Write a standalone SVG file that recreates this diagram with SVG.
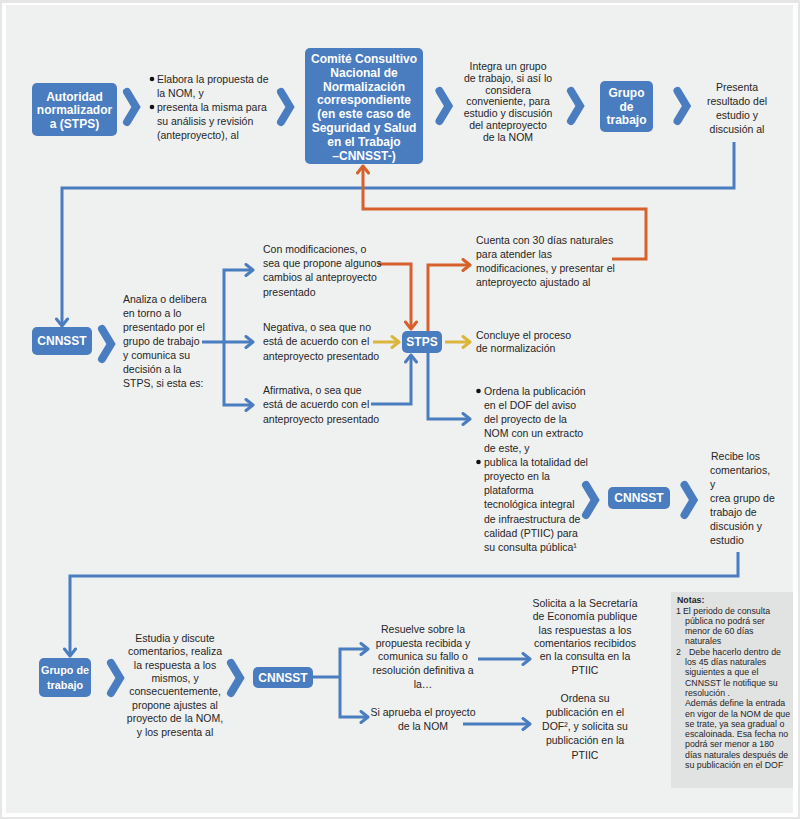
<svg xmlns="http://www.w3.org/2000/svg" xmlns:xlink="http://www.w3.org/1999/xlink" width="800" height="819" viewBox="0 0 800 819">
<style>
text{font-family:"Liberation Sans",Arial,sans-serif;fill:#262626}
.t{font-size:10.5px}
.c{text-anchor:middle}
.bt{font-size:12px;font-weight:bold;fill:#fff;text-anchor:middle}
.bt.s{font-size:10.8px}
.box{fill:#4a7cc0}
.chev{fill:none;stroke:#4a7cc0;stroke-width:8;stroke-linecap:round;stroke-linejoin:miter}
.lb{fill:none;stroke:#4a7cc0;stroke-width:3}
.lo{fill:none;stroke:#d6612d;stroke-width:3}
.ly{fill:none;stroke:#dcb53c;stroke-width:3}
.n{font-size:8.8px}
</style>
<defs>
<path id="chev" d="M-4.5,-15 L4.5,0 L-4.5,15"/>
<marker id="ab" viewBox="0 0 12 14" markerWidth="12" markerHeight="14" refX="10" refY="7" orient="auto" markerUnits="userSpaceOnUse"><path d="M3,1.5 L10,7 L3,12.5" fill="none" stroke="#4a7cc0" stroke-width="3" stroke-linecap="round" stroke-linejoin="round"/></marker>
<marker id="ao" viewBox="0 0 12 14" markerWidth="12" markerHeight="14" refX="10" refY="7" orient="auto" markerUnits="userSpaceOnUse"><path d="M3,1.5 L10,7 L3,12.5" fill="none" stroke="#d6612d" stroke-width="3" stroke-linecap="round" stroke-linejoin="round"/></marker>
<marker id="ay" viewBox="0 0 12 14" markerWidth="12" markerHeight="14" refX="10" refY="7" orient="auto" markerUnits="userSpaceOnUse"><path d="M3,1.5 L10,7 L3,12.5" fill="none" stroke="#dcb53c" stroke-width="3" stroke-linecap="round" stroke-linejoin="round"/></marker>
</defs>
<rect x="0" y="0" width="800" height="819" fill="#e6e6e6"/>
<rect x="2" y="3" width="796" height="814" fill="#ffffff"/>
<rect x="6" y="5" width="787" height="808" fill="#eff0f0"/>

<g id="connectors">
<path class="lb" d="M734,142 V188 H62 V326" marker-end="url(#ab)"/>
<path class="lb" d="M202,342 H253" marker-end="url(#ab)"/>
<path class="lb" d="M224,342 V270 H253" marker-end="url(#ab)"/>
<path class="lb" d="M224,342 V405 H253" marker-end="url(#ab)"/>
<path class="lo" d="M378,264 H411 V329" marker-end="url(#ao)"/>
<path class="lo" d="M428,331 V265 H470" marker-end="url(#ao)"/>
<path class="lo" d="M612,259 H646 V209 H363 V166" marker-end="url(#ao)"/>
<path class="ly" d="M373,342 H399" marker-end="url(#ay)"/>
<path class="ly" d="M445,342 H470" marker-end="url(#ay)"/>
<path class="lb" d="M371,404 H411 V355" marker-end="url(#ab)"/>
<path class="lb" d="M428,353 V419 H470" marker-end="url(#ab)"/>
<path class="lb" d="M738,552 V576 H70 V656" marker-end="url(#ab)"/>
<path class="lb" d="M313,677 H340"/>
<path class="lb" d="M340,677 V649 H368" marker-end="url(#ab)"/>
<path class="lb" d="M340,677 V717 H368" marker-end="url(#ab)"/>
<path class="lb" d="M478,659 H530" marker-end="url(#ab)"/>
<path class="lb" d="M463,724 H530" marker-end="url(#ab)"/>
<g id="chevrons">
<use xlink:href="#chev" href="#chev" class="chev" x="131.5" y="107"/>
<use xlink:href="#chev" href="#chev" class="chev" x="285.5" y="107"/>
<use xlink:href="#chev" href="#chev" class="chev" x="444" y="106"/>
<use xlink:href="#chev" href="#chev" class="chev" x="575.5" y="106"/>
<use xlink:href="#chev" href="#chev" class="chev" x="682" y="106"/>
<use xlink:href="#chev" href="#chev" class="chev" x="106.5" y="344"/>
<use xlink:href="#chev" href="#chev" class="chev" x="590.5" y="500"/>
<use xlink:href="#chev" href="#chev" class="chev" x="689" y="500"/>
<use xlink:href="#chev" href="#chev" class="chev" x="115.5" y="678"/>
<use xlink:href="#chev" href="#chev" class="chev" x="235.5" y="678"/>
</g>
</g>

<g id="autoridad">
<rect class="box" x="32" y="83" width="85" height="53" rx="5"/>
<text class="bt"><tspan x="74.5" y="100.5">Autoridad</tspan><tspan x="74.5" y="114">normalizador</tspan><tspan x="74.5" y="127.5">a (STPS)</tspan></text>
</g>

<g id="elabora">
<circle cx="152" cy="79" r="2.3" fill="#111"/>
<circle cx="152" cy="107" r="2.3" fill="#111"/>
<text class="t"><tspan x="157" y="82.7">Elabora la propuesta de</tspan><tspan x="157" y="96.7">la NOM,  y</tspan><tspan x="157" y="110.7">presenta la misma para</tspan><tspan x="157" y="124.7">su análisis y revisión</tspan><tspan x="157" y="138.7">(anteproyecto), al</tspan></text>
</g>

<g id="comite">
<rect class="box" x="305" y="48" width="118" height="116" rx="5"/>
<text class="bt"><tspan x="364" y="62.7">Comité Consultivo</tspan><tspan x="364" y="76.6">Nacional de</tspan><tspan x="364" y="90.5">Normalización</tspan><tspan x="364" y="104.4">correspondiente</tspan><tspan x="364" y="118.3">(en este caso de</tspan><tspan x="364" y="132.2">Seguridad y Salud</tspan><tspan x="364" y="146.1">en el Trabajo</tspan><tspan x="364" y="160">–CNNSST-)</tspan></text>
</g>

<g id="integra">
<text class="t c"><tspan x="508" y="69.7">Integra un grupo</tspan><tspan x="508" y="81.6">de trabajo, si así lo</tspan><tspan x="508" y="93.5">considera</tspan><tspan x="508" y="105.4">conveniente, para</tspan><tspan x="508" y="117.3">estudio y discusión</tspan><tspan x="508" y="129.2">del anteproyecto</tspan><tspan x="508" y="141.1">de la NOM</tspan></text>
</g>

<g id="grupo1">
<rect class="box" x="600" y="81" width="53" height="51" rx="5"/>
<text class="bt"><tspan x="626.5" y="97.2">Grupo</tspan><tspan x="626.5" y="110.7">de</tspan><tspan x="626.5" y="124.2">trabajo</tspan></text>
</g>

<g id="presenta">
<text class="t c"><tspan x="737" y="90.7">Presenta</tspan><tspan x="737" y="104.7">resultado del</tspan><tspan x="737" y="118.7">estudio y</tspan><tspan x="737" y="132.7">discusión al</tspan></text>
</g>

<g id="cnnsst1">
<rect class="box" x="32" y="327" width="60" height="28" rx="5"/>
<text class="bt" x="62" y="345.3">CNNSST</text>
</g>

<g id="analiza">
<text class="t"><tspan x="123" y="302.7">Analiza o delibera</tspan><tspan x="123" y="316.7">en torno a lo</tspan><tspan x="123" y="330.7">presentado por el</tspan><tspan x="123" y="344.7">grupo de trabajo</tspan><tspan x="123" y="358.7">y comunica su</tspan><tspan x="123" y="372.7">decisión a la</tspan><tspan x="123" y="386.7">STPS, si esta es:</tspan></text>
</g>

<g id="opciones">
<text class="t"><tspan x="263" y="252.7">Con modificaciones, o</tspan><tspan x="263" y="267">sea que propone algunos</tspan><tspan x="263" y="281.3">cambios al anteproyecto</tspan><tspan x="263" y="295.6">presentado</tspan></text>
<text class="t"><tspan x="263" y="331">Negativa, o sea que no</tspan><tspan x="263" y="345.3">está de acuerdo con el</tspan><tspan x="263" y="359.6">anteproyecto presentado</tspan></text>
<text class="t"><tspan x="263" y="394">Afirmativa, o sea que</tspan><tspan x="263" y="408.3">está de acuerdo con el</tspan><tspan x="263" y="422.6">anteproyecto presentado</tspan></text>
</g>

<g id="stps">
<rect class="box" x="402" y="331" width="40" height="22" rx="5"/>
<text class="bt" x="422" y="346.3">STPS</text>
</g>

<g id="cuenta">
<text class="t"><tspan x="476" y="243.7">Cuenta con 30 días naturales</tspan><tspan x="476" y="257.9">para atender las</tspan><tspan x="476" y="272.1">modificaciones, y presentar el</tspan><tspan x="476" y="286.3">anteproyecto ajustado al</tspan></text>
</g>

<g id="concluye">
<text class="t"><tspan x="476" y="338.7">Concluye el proceso</tspan><tspan x="476" y="351.7">de normalización</tspan></text>
</g>

<g id="ordena">
<circle cx="478.5" cy="391" r="2.3" fill="#111"/>
<circle cx="478.5" cy="462" r="2.3" fill="#111"/>
<text class="t"><tspan x="484" y="394.7">Ordena la publicación</tspan><tspan x="484" y="408.9">en el DOF  del aviso</tspan><tspan x="484" y="423.1">del proyecto de la</tspan><tspan x="484" y="437.3">NOM con un extracto</tspan><tspan x="484" y="451.5">de este, y</tspan><tspan x="484" y="465.7">publica la totalidad del</tspan><tspan x="484" y="479.9">proyecto en la</tspan><tspan x="484" y="494.1">plataforma</tspan><tspan x="484" y="508.3">tecnológica integral</tspan><tspan x="484" y="522.5">de infraestructura de</tspan><tspan x="484" y="536.7">calidad (PTIIC) para</tspan><tspan x="484" y="550.9">su consulta pública¹</tspan></text>
</g>

<g id="cnnsst2">
<rect class="box" x="608" y="487" width="62" height="22" rx="5"/>
<text class="bt" x="639" y="502.3">CNNSST</text>
</g>

<g id="recibe">
<text class="t"><tspan x="711" y="459.7">Recibe los</tspan><tspan x="710" y="473.7">comentarios,</tspan><tspan x="710" y="487.7">y</tspan><tspan x="710" y="501.7">crea grupo de</tspan><tspan x="710" y="515.7">trabajo de</tspan><tspan x="710" y="529.7">discusión y</tspan><tspan x="710" y="543.7">estudio</tspan></text>
</g>

<g id="grupo2">
<rect class="box" x="39" y="658" width="52" height="39" rx="5"/>
<text class="bt s"><tspan x="65" y="674">Grupo de</tspan><tspan x="65" y="688.5">trabajo</tspan></text>
</g>

<g id="estudia">
<text class="t c"><tspan x="175" y="641.7">Estudia y discute</tspan><tspan x="175" y="655.1">comentarios, realiza</tspan><tspan x="175" y="668.5">la respuesta a los</tspan><tspan x="175" y="681.9">mismos, y</tspan><tspan x="175" y="695.3">consecuentemente,</tspan><tspan x="175" y="708.7">propone ajustes al</tspan><tspan x="175" y="722.1">proyecto de la NOM,</tspan><tspan x="175" y="735.5">y los presenta al</tspan></text>
</g>

<g id="cnnsst3">
<rect class="box" x="253" y="667" width="60" height="21" rx="5"/>
<text class="bt" x="283" y="681.8">CNNSST</text>
</g>

<g id="resuelve">
<text class="t c"><tspan x="423" y="632.7">Resuelve sobre la</tspan><tspan x="423" y="646.5">propuesta recibida y</tspan><tspan x="423" y="660.3">comunica su fallo o</tspan><tspan x="423" y="674.1">resolución definitiva a</tspan><tspan x="423" y="687.9">la…</tspan></text>
</g>

<g id="aprueba">
<text class="t c"><tspan x="423" y="715.7">Si aprueba el proyecto</tspan><tspan x="423" y="729.7">de la NOM</tspan></text>
</g>

<g id="solicita">
<text class="t c"><tspan x="585" y="606.7">Solicita a la Secretaría</tspan><tspan x="585" y="620.1">de Economía publique</tspan><tspan x="585" y="633.5">las respuestas a los</tspan><tspan x="585" y="646.9">comentarios recibidos</tspan><tspan x="585" y="660.3">en la consulta en la</tspan><tspan x="585" y="673.7">PTIIC</tspan></text>
</g>

<g id="publica">
<text class="t c"><tspan x="585" y="701.7">Ordena su</tspan><tspan x="585" y="715.9">publicación en el</tspan><tspan x="585" y="730.2">DOF², y solicita su</tspan><tspan x="585" y="744.4">publicación en la</tspan><tspan x="585" y="758.7">PTIIC</tspan></text>
</g>

<g id="notas">
<rect x="671" y="592" width="122" height="196" fill="#e1e2e2"/>
<text class="n" font-weight="bold" x="677" y="603.2">Notas:</text>
<text class="n"><tspan x="676" y="613.5">1</tspan><tspan x="683" y="613.5">El periodo de consulta</tspan><tspan x="685" y="623.8">pública no podrá ser</tspan><tspan x="685" y="634.1">menor de 60 días</tspan><tspan x="685" y="644.4">naturales</tspan><tspan x="676" y="654.7">2</tspan><tspan x="689" y="654.7">Debe hacerlo dentro de</tspan><tspan x="685" y="665">los 45 días naturales</tspan><tspan x="685" y="675.3">siguientes a que el</tspan><tspan x="685" y="685.6">CNNSST le notifique su</tspan><tspan x="685" y="695.9">resolución .</tspan><tspan x="685" y="706.2">Además define la entrada</tspan><tspan x="685" y="716.5">en vigor de la NOM de que</tspan><tspan x="685" y="726.8">se trate, ya sea gradual o</tspan><tspan x="685" y="737.1">escaloinada. Esa fecha no</tspan><tspan x="685" y="747.4">podrá ser menor a 180</tspan><tspan x="685" y="757.7">días naturales después de</tspan><tspan x="685" y="768">su publicación en el DOF</tspan></text>
</g>
</svg>
